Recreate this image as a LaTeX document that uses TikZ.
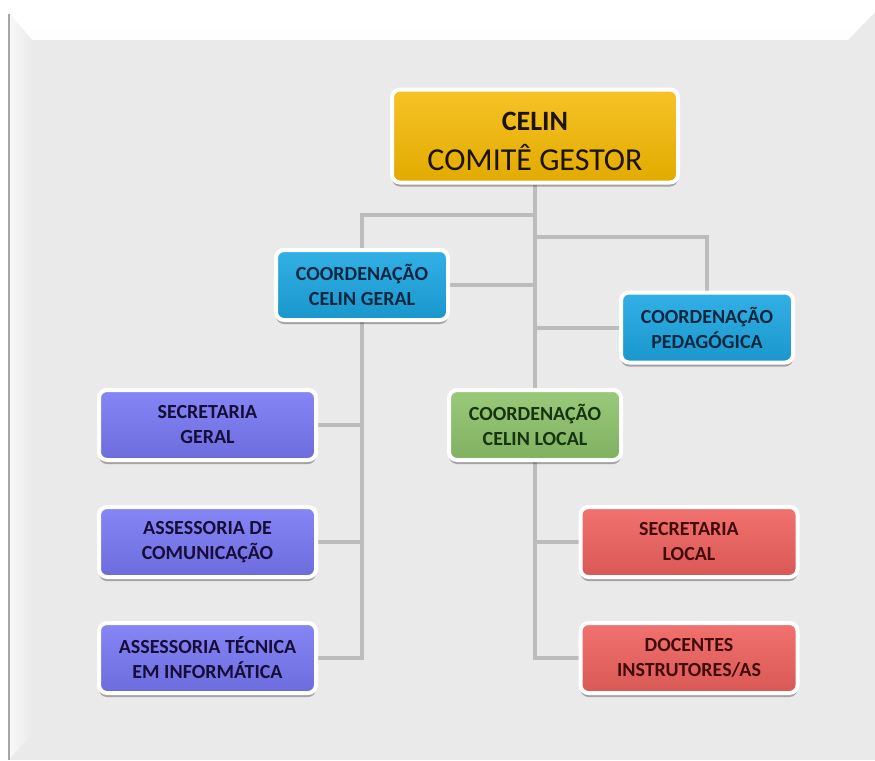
\documentclass[tikz,border=0pt]{standalone}
\usepackage{fontspec}
\setmainfont{Carlito}
\usetikzlibrary{shadows}
\pgfdeclarelayer{bg}
\pgfdeclarelayer{lines}
\pgfsetlayers{bg,lines,main}
\definecolor{panel}{HTML}{EAEAEA}
\definecolor{conn}{HTML}{BCBCBC}
\definecolor{yel}{HTML}{F5B900}
\definecolor{cya}{HTML}{1CA8E4}
\definecolor{pur}{HTML}{7878F5}
\definecolor{grn}{HTML}{8EC46B}
\definecolor{rd}{HTML}{F0625F}
\definecolor{tcya}{HTML}{0A2740}
\definecolor{tpur}{HTML}{160E38}
\definecolor{tgrn}{HTML}{17330F}
\definecolor{trd}{HTML}{420C0C}
\definecolor{tyel}{HTML}{1E1300}
\tikzset{
  orgbox/.style={rectangle, rounded corners=8pt, draw=white, line width=4pt,
    align=center, inner sep=2pt,
    drop shadow={shadow xshift=0pt, shadow yshift=-4pt, opacity=0.3, fill=black},
    font=\fontsize{20}{25}\selectfont\bfseries},
  wide/.style={minimum width=217pt, minimum height=70pt},
  mid/.style={minimum width=172pt, minimum height=70pt},
  cyabox/.style={orgbox, mid, top color=cya!90!white, bottom color=cya!90!black, text=tcya},
  purbox/.style={orgbox, wide, top color=pur!90!white, bottom color=pur!90!black, text=tpur},
  grnbox/.style={orgbox, mid, top color=grn!90!white, bottom color=grn!90!black, text=tgrn},
  rdbox/.style={orgbox, wide, top color=rd!90!white, bottom color=rd!90!black, text=trd},
  link/.style={draw=conn, line width=4pt}
}
\begin{document}
\begin{tikzpicture}[x=1pt, y=-1pt]
\useasboundingbox (0,0) rectangle (875,760);
\begin{pgfonlayer}{bg}
  \fill[white] (0,0) rectangle (875,760);
  \fill[panel] (8,12) rectangle (875,760);
  \shade[top color=white, bottom color=white!96!panel] (8,12) -- (875,12) -- (848,40) -- (32,40) -- cycle;
  \shade[left color=white!70!panel, right color=panel] (8,12) -- (32,40) -- (32,735) -- (8,760) -- cycle;
  \draw[gray!70, line width=1.5pt] (8.75,14) -- (8.75,760);
\end{pgfonlayer}

\node[orgbox, minimum width=286pt, minimum height=93pt, top color=yel!85!white, bottom color=yel!92!black, text=tyel, inner sep=0pt,
      font=\fontsize{32}{40}\selectfont] (celin) at (535,136)
  {\rule{0pt}{29pt}{\fontsize{28}{40}\selectfont\bfseries CELIN}\\COMITÊ GESTOR};
\node[cyabox] (cg) at (362,285) {COORDENAÇÃO\\CELIN GERAL};
\node[cyabox] (cp) at (707,327.5) {COORDENAÇÃO\\PEDAGÓGICA};
\node[purbox] (sg) at (207.5,425) {SECRETARIA\\GERAL};
\node[purbox] (ac) at (207.5,542) {ASSESSORIA DE\\COMUNICAÇÃO};
\node[purbox] (at) at (207.5,658) {ASSESSORIA TÉCNICA\\EM INFORMÁTICA};
\node[grnbox] (cl) at (535,425) {COORDENAÇÃO\\CELIN LOCAL};
\node[rdbox] (sl) at (689,542) {SECRETARIA\\LOCAL};
\node[rdbox] (dc) at (689,658) {DOCENTES\\INSTRUTORES/AS};

\coordinate (j1) at (535,215);
\coordinate (j2) at (535,237);
\begin{pgfonlayer}{lines}
  \draw[link] (celin.south) -- (cl.north);
  \draw[link] (j1) -| (cg.north);
  \draw[link] (j2) -| (cp.north);
  \draw[link] (cg.east) -- (cg.east -| celin.south);
  \draw[link] (cp.west) -- (cp.west -| celin.south);
  \draw[link] (cg.south) |- (at.east);
  \draw[link] (sg.east) -- (sg.east -| cg.south);
  \draw[link] (ac.east) -- (ac.east -| cg.south);
  \draw[link] (cl.south) |- (dc.west);
  \draw[link] (sl.west) -- (sl.west -| cl.south);
\end{pgfonlayer}
\end{tikzpicture}
\end{document}
